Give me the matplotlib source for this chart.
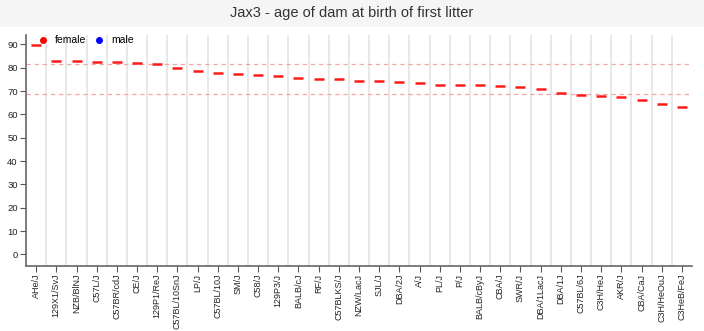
import matplotlib.pyplot as plt
from matplotlib.lines import Line2D
from matplotlib.patches import Rectangle

plt.rcParams["font.family"] = ["Liberation Sans", "DejaVu Sans"]

strains = ["AHe/J", "129X1/SvJ", "NZB/BlNJ", "C57L/J", "C57BR/cdJ", "CE/J",
           "129P1/ReJ", "C57BL/10SnJ", "LP/J", "C57BL/10J", "SM/J", "C58/J",
           "129P3/J", "BALB/cJ", "RF/J", "C57BLKS/J", "NZW/LacJ", "SJL/J",
           "DBA/2J", "A/J", "PL/J", "P/J", "BALB/cByJ", "CBA/J", "SWR/J",
           "DBA/1LacJ", "DBA/1J", "C57BL/6J", "C3H/HeJ", "AKR/J", "CBA/CaJ",
           "C3H/HeOuJ", "C3HeB/FeJ"]
female_age = [89.6, 83.0, 82.9, 82.4, 82.3, 82.1, 81.7, 79.7, 78.7, 77.6,
              77.3, 77.1, 76.4, 75.7, 75.3, 75.0, 74.4, 74.4, 74.1, 73.3,
              72.7, 72.6, 72.6, 72.3, 71.9, 71.0, 69.0, 68.4, 68.0, 67.4,
              66.0, 64.4, 63.3]
ref_lines = [81.4, 68.9]
yticks = list(range(0, 91, 10))

fig = plt.figure(figsize=(7.04, 3.31), dpi=100)
fig.patch.set_facecolor("white")
# header band behind the title
fig.patches.append(Rectangle((0, 0.918), 1, 0.082, transform=fig.transFigure,
                             facecolor="#f5f5f5", edgecolor="none", zorder=0))
fig.text(0.5, 0.96, "Jax3 - age of dam at birth of first litter",
         ha="center", va="center", fontsize=10.5, color="#333333")

ax = fig.add_axes([0.037, 0.196, 0.946, 0.698])
x = list(range(len(strains)))

ax.plot(x, female_age, linestyle="none", marker="_", markersize=7.5,
        markeredgewidth=1.8, color="#ff1a1a", zorder=3)
for v in ref_lines:
    ax.axhline(v, color="#f2a6a6", linestyle=(0, (3.5, 3)), linewidth=0.9, zorder=2)

ax.set_xlim(-0.5, len(strains) - 0.5)
ax.set_ylim(-5, 94)
ax.set_xticks(x)
ax.set_xticklabels(strains, rotation=90, fontsize=6.5, color="#222222")
ax.set_yticks(yticks)
ax.set_yticklabels([str(t) for t in yticks], fontsize=6.8, color="#222222")
ax.set_xticks([i + 0.5 for i in x[:-1]], minor=True)
ax.grid(True, axis="x", which="minor", color="#e6e6e6", linewidth=1.3)
ax.tick_params(axis="x", which="minor", length=0)
ax.tick_params(axis="both", which="major", length=4, width=0.8,
               color="#555555", pad=2)
ax.tick_params(axis="x", which="major", pad=1.5)

for side in ["top", "right"]:
    ax.spines[side].set_visible(False)
for side in ["left", "bottom"]:
    ax.spines[side].set_color("#666666")
    ax.spines[side].set_linewidth(1.2)

handles = [Line2D([], [], linestyle="none", marker="o", markersize=4,
                  color="red", label="female"),
           Line2D([], [], linestyle="none", marker="o", markersize=4,
                  color="blue", label="male")]
ax.legend(handles=handles, loc="lower left", bbox_to_anchor=(0.01, 0.955),
          ncol=2, frameon=False, fontsize=7.5, handletextpad=0.1,
          columnspacing=0.3, borderpad=0, borderaxespad=0)

fig.savefig("out.png", dpi=100)
